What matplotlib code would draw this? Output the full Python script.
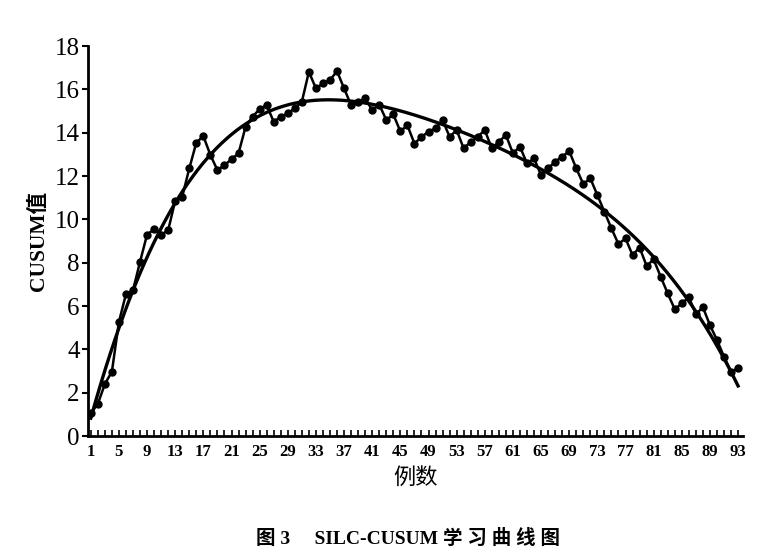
import numpy as np
import matplotlib
matplotlib.use("Agg")
import matplotlib.pyplot as plt
from matplotlib.ticker import MultipleLocator

cases = list(range(1, 94))
cusum = [1.05, 1.48, 2.4, 2.97, 5.27, 6.55, 6.73, 8.04, 9.3, 9.54,
         9.28, 9.5, 10.86, 11.05, 12.35, 13.54, 13.84, 12.97, 12.27, 12.5,
         12.77, 13.05, 14.27, 14.74, 15.09, 15.27, 14.5, 14.74, 14.89, 15.12,
         15.43, 16.81, 16.04, 16.27, 16.43, 16.84, 16.04, 15.27, 15.43, 15.58,
         15.04, 15.3, 14.58, 14.84, 14.06, 14.34, 13.5, 13.8, 14.05, 14.2,
         14.58, 13.81, 14.12, 13.27, 13.58, 13.81, 14.12, 13.27, 13.58, 13.89,
         13.05, 13.35, 12.58, 12.81, 12.04, 12.35, 12.66, 12.89, 13.15, 12.35,
         11.63, 11.89, 11.12, 10.35, 9.58, 8.86, 9.12, 8.35, 8.7, 7.85,
         8.15, 7.35, 6.58, 5.85, 6.12, 6.4, 5.63, 5.94, 5.12, 4.43,
         3.66, 2.97, 3.12]
xtick_labels = list(range(1, 94, 4))
yticks = list(range(0, 19, 2))
fit_degree = 4

serif_cjk = ['Liberation Serif', 'Noto Sans CJK SC']

fig = plt.figure(figsize=(7.69, 5.59), dpi=100)
ax = fig.add_axes([0.1144, 0.22, 0.8518, 0.6977])

x = np.array(cases, dtype=float)
y = np.array(cusum)
coef = np.polyfit(x, y, fit_degree)
xf = np.linspace(x.min(), x.max(), 400)
ax.plot(xf, np.polyval(coef, xf), color='black', lw=2.4, zorder=2)
ax.plot(x, y, color='black', lw=1.8, marker='o', ms=5, zorder=3)

ax.set_xlim(0.6, 93.7)
ax.set_ylim(0, 18)
ax.set_yticks(yticks)
ax.set_yticklabels([str(v) for v in yticks], fontfamily='Liberation Serif', fontsize=18)
ax.set_xticks(xtick_labels)
ax.set_xticklabels([str(v) for v in xtick_labels], fontfamily='Liberation Serif',
                   fontsize=12, fontweight='bold')
ax.xaxis.set_minor_locator(MultipleLocator(1))
ax.tick_params(axis='x', which='both', direction='in', length=4, width=1.2, pad=6)
ax.tick_params(axis='y', which='major', direction='out', length=4, width=1.5, pad=2)

for s in ['top', 'right']:
    ax.spines[s].set_visible(False)
for s in ['left', 'bottom']:
    ax.spines[s].set_linewidth(2)

ax.set_ylabel('CUSUM值', family=serif_cjk, fontsize=15.5, fontweight='bold', labelpad=4)
ax.set_xlabel('例数', family=['Noto Sans CJK SC'], fontsize=16, labelpad=4)

fig.text(0.531, 0.02, '图 3     SILC-CUSUM 学 习 曲 线 图', family=serif_cjk,
         fontsize=14, fontweight='bold', ha='center', va='bottom')

fig.savefig('out.png', dpi=100)
